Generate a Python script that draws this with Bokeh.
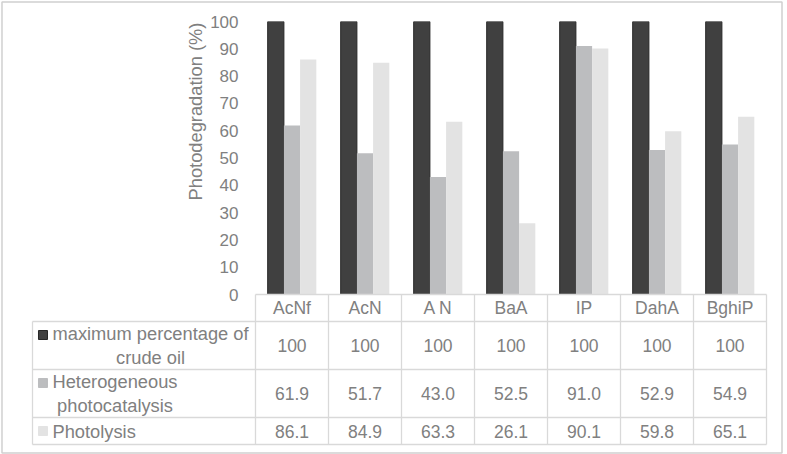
import math
from bokeh.plotting import figure
from bokeh.models import FactorRange, Range1d, FixedTicker, ColumnDataSource
from bokeh.transform import dodge
from bokeh.core.properties import value
from bokeh.embed import file_html
from bokeh.resources import INLINE

# ---------------- data ----------------
categories = ["AcNf", "AcN", "A N", "BaA", "IP", "DahA", "BghiP"]
series_names = ["maximum percentage of\ncrude oil", "Heterogeneous\nphotocatalysis", "Photolysis"]
max_crude = [100, 100, 100, 100, 100, 100, 100]
hetero = [61.9, 51.7, 43.0, 52.5, 91.0, 52.9, 54.9]
photolysis = [86.1, 84.9, 63.3, 26.1, 90.1, 59.8, 65.1]
y_ticks = [0, 10, 20, 30, 40, 50, 60, 70, 80, 90, 100]
y_title = "Photodegradation (%)"

# ---------------- style / layout ----------------
colors = ["#404040", "#bcbdbf", "#e3e3e3"]
TXT = "#808080"
GRID = "#d9d9d9"
FONT = value("Liberation Sans")
FS = "17.5px"

W, H = 787, 454
OX, OY = 0, 0                 # page offset of the figure
FL, FR, FT, FB = 255, 766, 21, 444   # frame edges (page px)
ZERO = 294                    # page y of value 0
ROWS = [294, 321, 369, 417, 444]  # table row boundaries (page px)
TL = 32                       # table left edge
LINE_H = 21

ppu = (ZERO - FT) / 100.0
y0 = -(FB - ZERO) / ppu
ncol = len(categories)
colw = (FR - FL) / ncol


def fx(px):
    """page x -> synthetic categorical coordinate"""
    return (px - FL) / colw


p = figure(width=W, height=H,
           x_range=FactorRange(*categories), y_range=Range1d(y0, 100),
           output_backend="svg", toolbar_location=None, x_axis_location=None,
           min_border_left=FL - OX, min_border_right=OX + W - FR,
           min_border_top=FT - OY, min_border_bottom=OY + H - FB)
p.extra_y_ranges = {"py": Range1d(FB, FT)}
p.outline_line_color = None
p.xgrid.visible = False
p.ygrid.visible = False
p.background_fill_color = "white"
p.border_fill_color = "white"

ax = p.yaxis[0]
ax.ticker = FixedTicker(ticks=y_ticks)
ax.axis_line_color = None
ax.major_tick_line_color = None
ax.minor_tick_line_color = None
ax.major_tick_out = 0
ax.major_tick_in = 0
ax.major_label_standoff = 17
ax.major_label_text_font = "Liberation Sans"
ax.major_label_text_font_size = "17px"
ax.major_label_text_color = TXT

# ---------------- bars ----------------
src = ColumnDataSource(dict(cat=categories, s0=max_crude, s1=hetero, s2=photolysis))
bw = 0.222
for i, key in enumerate(["s0", "s1", "s2"]):
    p.vbar(x=dodge("cat", (i - 1) * bw, range=p.x_range), top=key, bottom=0,
           width=bw, source=src, fill_color=colors[i],
           line_color="#262626" if i == 0 else None, line_width=1)

# ---------------- table ----------------
bounds = [float(k) for k in range(ncol + 1)]

# horizontal lines
hx0 = [0.0] + [fx(TL)] * (len(ROWS) - 1)
hx1 = [float(ncol)] * len(ROWS)
p.segment(x0=hx0, y0=ROWS, x1=hx1, y1=ROWS, y_range_name="py",
          line_color=GRID, line_width=1.3, level="overlay")
# vertical lines
vx = [fx(TL)] + bounds
vy0 = [ROWS[1]] + [ROWS[0]] * len(bounds)
vy1 = [ROWS[-1]] * len(vx)
p.segment(x0=vx, y0=vy0, x1=vx, y1=vy1, y_range_name="py",
          line_color=GRID, line_width=1.3, level="overlay")

centers = [(ROWS[k] + ROWS[k + 1]) / 2 for k in range(len(ROWS) - 1)]

# header row
p.text(x=categories, y=[centers[0]] * ncol, text=categories, y_range_name="py",
       text_align="center", text_baseline="middle", text_font=FONT,
       text_font_size=FS, text_color=TXT, level="overlay")

# value rows
row_vals = [[f"{v:.0f}" for v in max_crude],
            [f"{v:.1f}" for v in hetero],
            [f"{v:.1f}" for v in photolysis]]
for r, vals in enumerate(row_vals):
    p.text(x=categories, y=[centers[r + 1]] * ncol, text=vals, y_range_name="py",
           text_align="center", text_baseline="middle", text_font=FONT,
           text_font_size=FS, text_color=TXT, level="overlay")

# legend column
row_c = centers[1:]
first_line = [c - (n.count("\n")) * LINE_H / 2 for c, n in zip(row_c, series_names)]
p.rect(x=[fx(42.5)] * 3, y=first_line, width=9, height=9, width_units="screen",
       height_units="screen", y_range_name="py",
       fill_color=colors, line_color=["#262626", colors[1], colors[2]], level="overlay")
p.text(x=[fx(52)] * 3, y=row_c, text=series_names, y_range_name="py",
       anchor=value("center_left"), text_align="center", text_baseline="middle",
       text_font=FONT, text_font_size="18.3px", text_color=TXT, text_line_height=1.15,
       level="overlay")

# axis title
p.text(x=[fx(195)], y=[111], text=[y_title], y_range_name="py", angle=math.pi / 2,
       text_align="center", text_baseline="middle", text_font=FONT,
       text_font_size="18.3px", text_color=TXT, level="overlay")

# chart border
p.quad(left=[fx(OX + 1.5)], right=[fx(OX + W - 5.5)], top=[OY + 1.5], bottom=[OY + H - 1.5],
       y_range_name="py", fill_color=None, line_color="#d0d0d0",
       line_width=1.5, level="overlay")

open("out.html", "w").write(file_html(p, INLINE))
